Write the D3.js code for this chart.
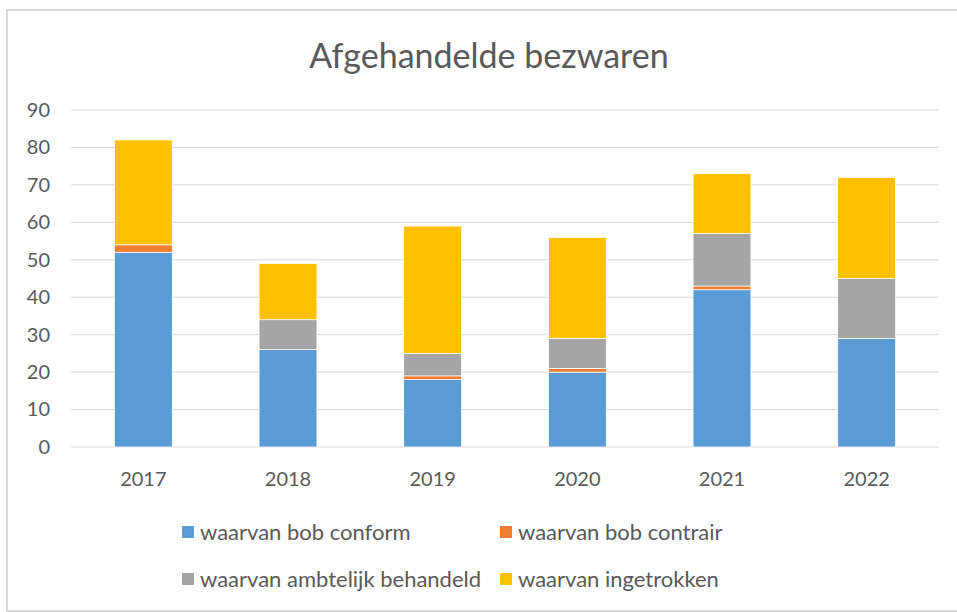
<!DOCTYPE html>
<html><head><meta charset="utf-8">
<script src="https://cdn.jsdelivr.net/npm/d3@7"></script>
<style>body{margin:0;background:#fff}svg{display:block}text{font-family:Lato,"Open Sans",sans-serif}</style>
</head><body><svg id="c" width="957" height="612"></svg>
<script>
const categories = ["2017","2018","2019","2020","2021","2022"];
const seriesNames = ["waarvan bob conform","waarvan bob contrair","waarvan ambtelijk behandeld","waarvan ingetrokken"];
const bobConform = [52,26,18,20,42,29];
const bobContrair = [2,0,1,1,1,0];
const ambtelijk = [0,8,6,8,14,16];
const ingetrokken = [28,15,34,27,16,27];
const yTicks = [0,10,20,30,40,50,60,70,80,90];
const colors = ["#5b9bd5","#ed7d31","#a5a5a5","#ffc000"];

const svg = d3.select("#c");
svg.append("rect").attr("x",7).attr("y",10).attr("width",960).attr("height",601)
  .attr("fill","#fff").attr("stroke","#d9d9d9").attr("stroke-width",2);

const rows = categories.map((c,i)=>({cat:c, s0:bobConform[i], s1:bobContrair[i], s2:ambtelijk[i], s3:ingetrokken[i]}));
const stack = d3.stack().keys(["s0","s1","s2","s3"])(rows);

const x = d3.scaleBand().domain(categories).range([71,939]).paddingInner(0.6).paddingOuter(0.3);
const y = d3.scaleLinear().domain([0,90]).range([447,110]);

svg.append("g").selectAll("line").data(yTicks).join("line")
  .attr("x1",71).attr("x2",939).attr("y1",d=>y(d)).attr("y2",d=>y(d))
  .attr("stroke","#d9d9d9").attr("stroke-width",1);

const yAxis = svg.append("g").attr("transform","translate(71,0)")
  .call(d3.axisLeft(y).tickValues(yTicks).tickSize(0).tickPadding(21));
yAxis.select(".domain").remove();
yAxis.selectAll("text").attr("fill","#595959").style("font-size","20px");

const xAxis = svg.append("g").attr("transform","translate(0,447)")
  .call(d3.axisBottom(x).tickSize(0).tickPadding(25));
xAxis.select(".domain").remove();
xAxis.selectAll("text").attr("fill","#595959").style("font-size","20px");

svg.append("g").selectAll("g").data(stack).join("g").attr("fill",(d,i)=>colors[i])
  .selectAll("rect").data(d=>d).join("rect")
  .attr("x",d=>x(d.data.cat)).attr("width",x.bandwidth())
  .attr("y",d=>y(d[1])).attr("height",d=>y(d[0])-y(d[1]))
  .attr("stroke","#fff").attr("stroke-width",0.75);

svg.append("text").attr("x",489).attr("y",68).attr("text-anchor","middle")
  .attr("fill","#595959").style("font-size","34px").text("Afgehandelde bezwaren");

const legPos = [[182,532],[500,532],[182,579],[500,579]];
const leg = svg.append("g").selectAll("g").data(seriesNames).join("g")
  .attr("transform",(d,i)=>`translate(${legPos[i][0]},${legPos[i][1]})`);
leg.append("rect").attr("x",0).attr("y",-6).attr("width",12).attr("height",12).attr("fill",(d,i)=>colors[i]);
leg.append("text").attr("x",18).attr("y",8).attr("fill","#595959").style("font-size","22px").text(d=>d);
</script></body></html>
